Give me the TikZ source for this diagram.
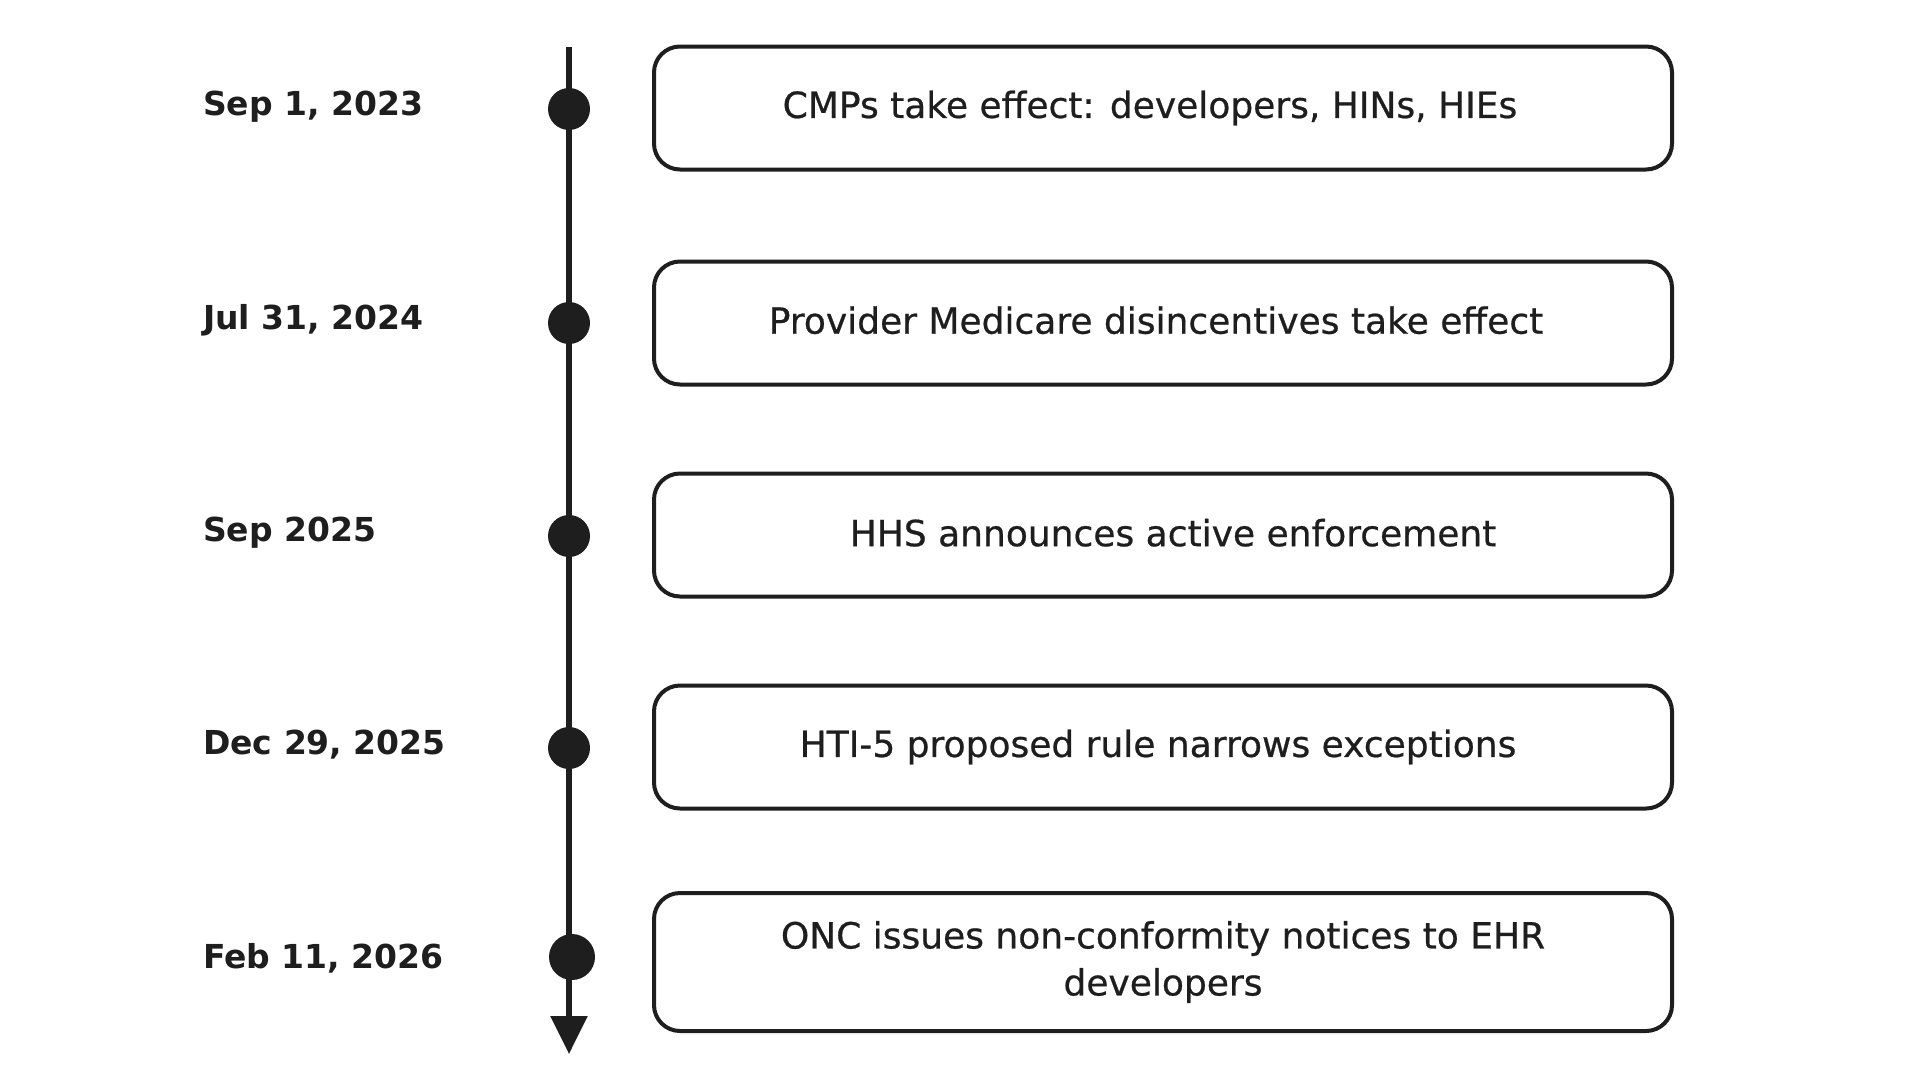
\documentclass[tikz,border=0pt]{standalone}
\usepackage{fontspec}
\setmainfont{DejaVu Sans}
\newfontfamily\boxfont[FakeBold=0.6]{DejaVu Sans}
\usetikzlibrary{arrows.meta}
\definecolor{ink}{HTML}{1E1E1E}
\tikzset{
  evbox/.style={draw=ink, line width=4pt, rounded corners=26pt, minimum width=1018pt, minimum height=123pt, align=center, text=ink, font=\boxfont\fontsize{36}{47}\selectfont, inner sep=0pt},
  datelbl/.style={anchor=west, text=ink, font=\fontsize{33}{40}\selectfont\bfseries, inner sep=0pt},
  evdot/.style={circle, fill=ink, minimum size=42pt, inner sep=0pt},
  axis/.style={draw=ink, line width=5.5pt, -{Triangle[width=36pt,length=38pt]}}
}
\begin{document}
\begin{tikzpicture}[x=1pt,y=-1pt]
\useasboundingbox (0,0) rectangle (1920,1080);
\fill[white] (0,0) rectangle (1920,1080);
\coordinate (top) at (569,47);
\coordinate (bot) at (569,1054);
\draw[axis] (top) -- (bot);
\node[evdot] (d1) at (569,109) {};
\node[evdot] (d2) at (569,323) {};
\node[evdot] (d3) at (569,536) {};
\node[evdot] (d4) at (569,748) {};
\node[evdot, minimum size=46pt] (d5) at (572,957) {};
\node[datelbl] (l1) at (203,107) {Sep 1, 2023};
\node[datelbl] (l2) at (203,320) {Jul 31, 2024};
\node[datelbl] (l3) at (203,533) {Sep 2025};
\node[datelbl] (l4) at (203,745) {Dec 29, 2025};
\node[datelbl] (l5) at (203,958) {Feb 11, 2026};
\node[evbox] (b1) at (1163,108) {CMPs take effect: developers, HINs, HIEs\hspace*{26pt}};
\node[evbox] (b2) at (1163,323) {\raisebox{6pt}{Provider Medicare disincentives take effect\hspace*{14pt}}};
\node[evbox] (b3) at (1163,535) {\raisebox{5pt}{\hspace*{20pt}HHS announces active enforcement}};
\node[evbox] (b4) at (1163,747) {HTI-5 proposed rule narrows exceptions\hspace*{10pt}};
\node[evbox, minimum height=138pt] (b5) at (1163,962) {ONC issues non-conformity notices to EHR\\developers};
\end{tikzpicture}
\end{document}
